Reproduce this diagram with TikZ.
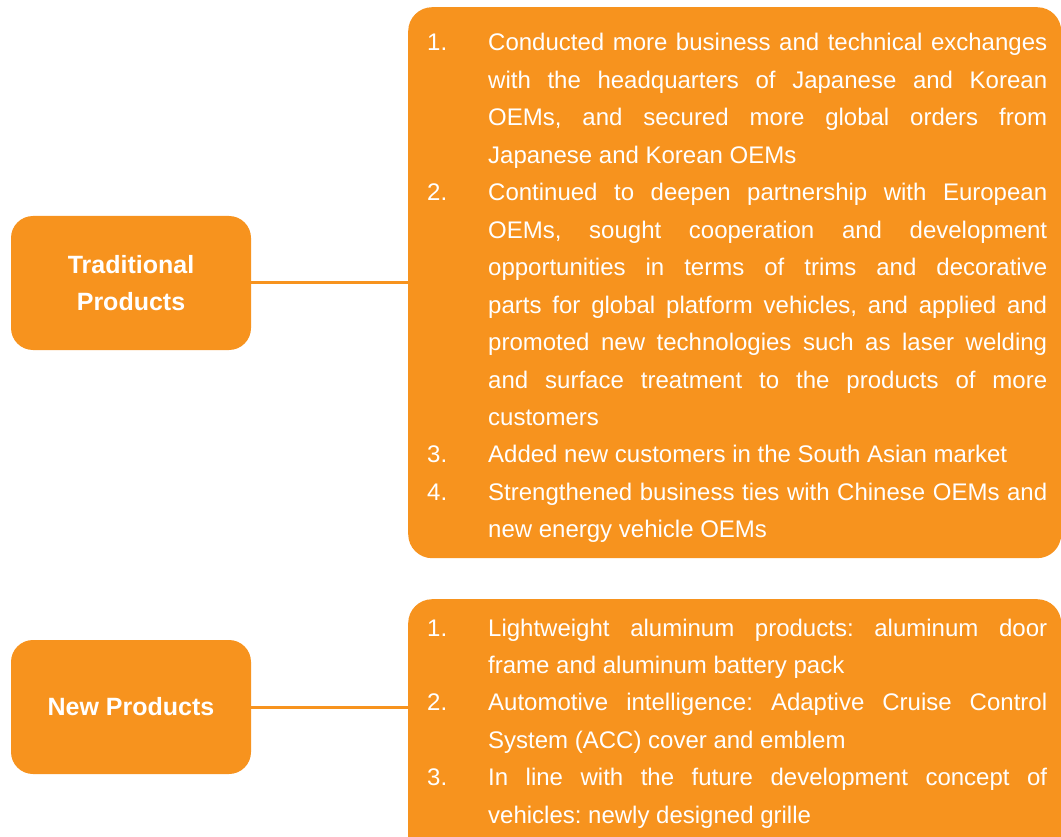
\documentclass[tikz,border=0pt]{standalone}
\usepackage{fontspec}
\setmainfont{Liberation Sans}
\frenchspacing
\definecolor{brandorange}{HTML}{F7931E}
\tikzset{
    headbox/.style={fill=brandorange, rounded corners=22pt, minimum width=240pt, minimum height=134pt,
        text=white, align=center, font=\fontsize{25}{37}\selectfont\bfseries},
    panel/.style={fill=brandorange, rounded corners=24pt, anchor=north west, inner sep=0pt},
    itemlist/.style={anchor=base west, inner sep=0pt, text width=620pt, align=justify,
        text=white, font=\fontsize{24}{37.45}\selectfont},
    link/.style={draw=brandorange, line width=3pt}
}
\newcommand{\firstitem}[1]{\hangindent=61pt\hangafter=1\noindent\makebox[61pt][l]{#1}}
\newcommand{\numitem}[1]{\par\firstitem{#1}}
\begin{document}
\begin{tikzpicture}[x=1pt,y=-1pt]
    \useasboundingbox (0,0) rectangle (1061,837);
    \clip (0,0) rectangle (1061,837);

    % right panels
    \node[panel, minimum width=653pt, minimum height=551pt] (tradpanel) at (408,7) {};
    \node[panel, minimum width=653pt, minimum height=270pt] (newpanel) at (408,599) {};

    % left boxes
    \node[headbox] (trad) at (131,283) {Traditional\\Products};
    \node[headbox] (new) at (131,707) {New Products};

    \draw[link] (trad.east) -- (trad.east -| tradpanel.west);
    \draw[link] (new.east) -- (new.east -| newpanel.west);

    \node[itemlist] (tradlist) at (427,51) {%
        \firstitem{1.}Conducted more business and technical exchanges\linebreak
        with the headquarters of Japanese and Korean\linebreak
        OEMs, and secured more global orders from\linebreak
        Japanese and Korean OEMs
        \numitem{2.}Continued to deepen partnership with European\linebreak
        OEMs, sought cooperation and development\linebreak
        opportunities in terms of trims and decorative\linebreak
        parts for global platform vehicles, and applied and\linebreak
        promoted new technologies such as laser welding\linebreak
        and surface treatment to the products of more\linebreak
        customers
        \numitem{3.}Added new customers in the South Asian market
        \numitem{4.}Strengthened business ties with Chinese OEMs and\linebreak
        new energy vehicle OEMs\par};

    \node[itemlist] (newlist) at (427,636) {%
        \firstitem{1.}Lightweight aluminum products: aluminum door\linebreak
        frame and aluminum battery pack
        \numitem{2.}Automotive intelligence: Adaptive Cruise Control\linebreak
        System (ACC) cover and emblem
        \numitem{3.}In line with the future development concept of\linebreak
        vehicles: newly designed grille\par};
\end{tikzpicture}
\end{document}
